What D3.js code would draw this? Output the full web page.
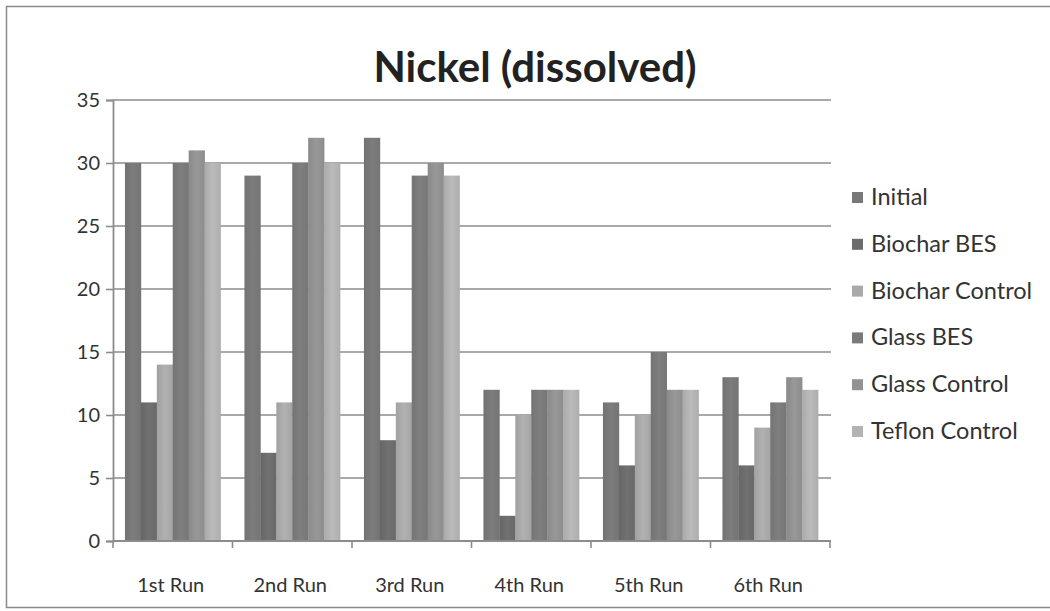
<!DOCTYPE html>
<html>
<head>
<meta charset="utf-8">
<script src="https://cdn.jsdelivr.net/npm/d3@7"></script>
<style>
  html, body { margin: 0; padding: 0; background: #fff; }
  svg { display: block; }
  text { font-family: Lato, "Open Sans", sans-serif; }
</style>
</head>
<body>
<svg id="chart" width="1050" height="611"></svg>
<script>
// Dissolved nickel per run and reactor setup
const runs = ["1st Run", "2nd Run", "3rd Run", "4th Run", "5th Run", "6th Run"];
const seriesNames = ["Initial", "Biochar BES", "Biochar Control", "Glass BES", "Glass Control", "Teflon Control"];
const initial        = [30, 29, 32, 12, 11, 13];
const biocharBES     = [11, 7, 8, 2, 6, 6];
const biocharControl = [14, 11, 11, 10, 10, 9];
const glassBES       = [30, 30, 29, 12, 15, 11];
const glassControl   = [31, 32, 30, 12, 12, 13];
const teflonControl  = [30, 30, 29, 12, 12, 12];
const yTicks = [0, 5, 10, 15, 20, 25, 30, 35];

const seriesValues = [initial, biocharBES, biocharControl, glassBES, glassControl, teflonControl];
const colors = ["#787878", "#6c6c6c", "#aaaaaa", "#7a7a7a", "#929292", "#b3b3b3"];

const svg = d3.select("#chart");
const plot = { left: 113, right: 830, top: 100, bottom: 541 };

// Bar shading: slightly lighter band through the middle of each bar
const defs = svg.append("defs");
colors.forEach((c, i) => {
  const g = defs.append("linearGradient").attr("id", "grad" + i)
    .attr("x1", "0").attr("x2", "1").attr("y1", "0").attr("y2", "0");
  const base = d3.color(c);
  g.append("stop").attr("offset", "0%").attr("stop-color", base.darker(0.15));
  g.append("stop").attr("offset", "50%").attr("stop-color", base.brighter(0.12));
  g.append("stop").attr("offset", "100%").attr("stop-color", base.darker(0.1));
});

// Chart frame
svg.append("rect").attr("x", 6.5).attr("y", 6.5).attr("width", 1060).attr("height", 601)
  .attr("fill", "none").attr("stroke", "#8a8a8a").attr("stroke-width", 1.5);

// Place groups so the gap between groups is 1.5 bar widths
const step = (plot.right - plot.left) / runs.length;
const barW = step / 7.5;
const groupX = d => plot.left + runs.indexOf(d) * step + 0.75 * barW;
const x1 = d3.scaleBand().domain(seriesNames).range([0, barW * 6]).padding(0);

const y = d3.scaleLinear().domain([0, 35]).range([plot.bottom, plot.top]);

// Gridlines
svg.append("g").selectAll("line").data(yTicks.filter(t => t > 0)).join("line")
  .attr("x1", plot.left).attr("x2", plot.right + 1)
  .attr("y1", d => y(d)).attr("y2", d => y(d))
  .attr("stroke", "#8c8c8c").attr("stroke-width", 1.6);

// Bars
const groups = svg.append("g").selectAll("g").data(runs).join("g")
  .attr("transform", d => `translate(${groupX(d)},0)`);
groups.selectAll("rect")
  .data((run, ri) => seriesNames.map((s, si) => ({ s, si, v: seriesValues[si][ri] })))
  .join("rect")
  .attr("x", d => x1(d.s))
  .attr("width", x1.bandwidth() + 0.3)
  .attr("y", d => y(d.v))
  .attr("height", d => y(0) - y(d.v))
  .attr("fill", d => `url(#grad${d.si})`);

// Y axis
const yAxis = d3.axisLeft(y).tickValues(yTicks).tickSize(7).tickPadding(6);
const gy = svg.append("g").attr("transform", `translate(${plot.left},0)`).call(yAxis);
gy.select(".domain").attr("stroke", "#8c8c8c").attr("stroke-width", 1.8);
gy.selectAll(".tick line").attr("stroke", "#8c8c8c").attr("stroke-width", 1.6);
gy.selectAll(".tick text").attr("font-size", 20).attr("fill", "#333")
  .attr("font-family", "Lato, sans-serif");

// X axis with tick marks at category boundaries
const xb = d3.scaleLinear().domain([0, runs.length]).range([plot.left, plot.right]);
const gx = svg.append("g").attr("transform", `translate(0,${plot.bottom})`);
gx.append("line").attr("x1", plot.left).attr("x2", plot.right + 1)
  .attr("stroke", "#8c8c8c").attr("stroke-width", 1.8);
gx.selectAll(".bt").data(d3.range(runs.length + 1)).join("line")
  .attr("x1", d => xb(d)).attr("x2", d => xb(d)).attr("y1", 0).attr("y2", 7)
  .attr("stroke", "#8c8c8c").attr("stroke-width", 1.6);
gx.selectAll("text").data(runs).join("text")
  .attr("x", (d, i) => xb(i + 0.5) - 2).attr("y", 51)
  .attr("text-anchor", "middle").attr("font-size", 20).attr("fill", "#333")
  .text(d => d);

// Title
svg.append("text").attr("x", 535).attr("y", 82).attr("text-anchor", "middle")
  .attr("font-size", 42).attr("font-weight", "bold").attr("fill", "#222")
  .text("Nickel (dissolved)");

// Legend
const legend = svg.append("g").selectAll("g").data(seriesNames).join("g")
  .attr("transform", (d, i) => `translate(852,${197 + i * 46.8})`);
legend.append("rect").attr("x", 0).attr("y", -5).attr("width", 11).attr("height", 11)
  .attr("fill", (d, i) => colors[i]);
legend.append("text").attr("x", 19).attr("y", 8).attr("font-size", 23.5).attr("fill", "#333")
  .text(d => d);
</script>
</body>
</html>
